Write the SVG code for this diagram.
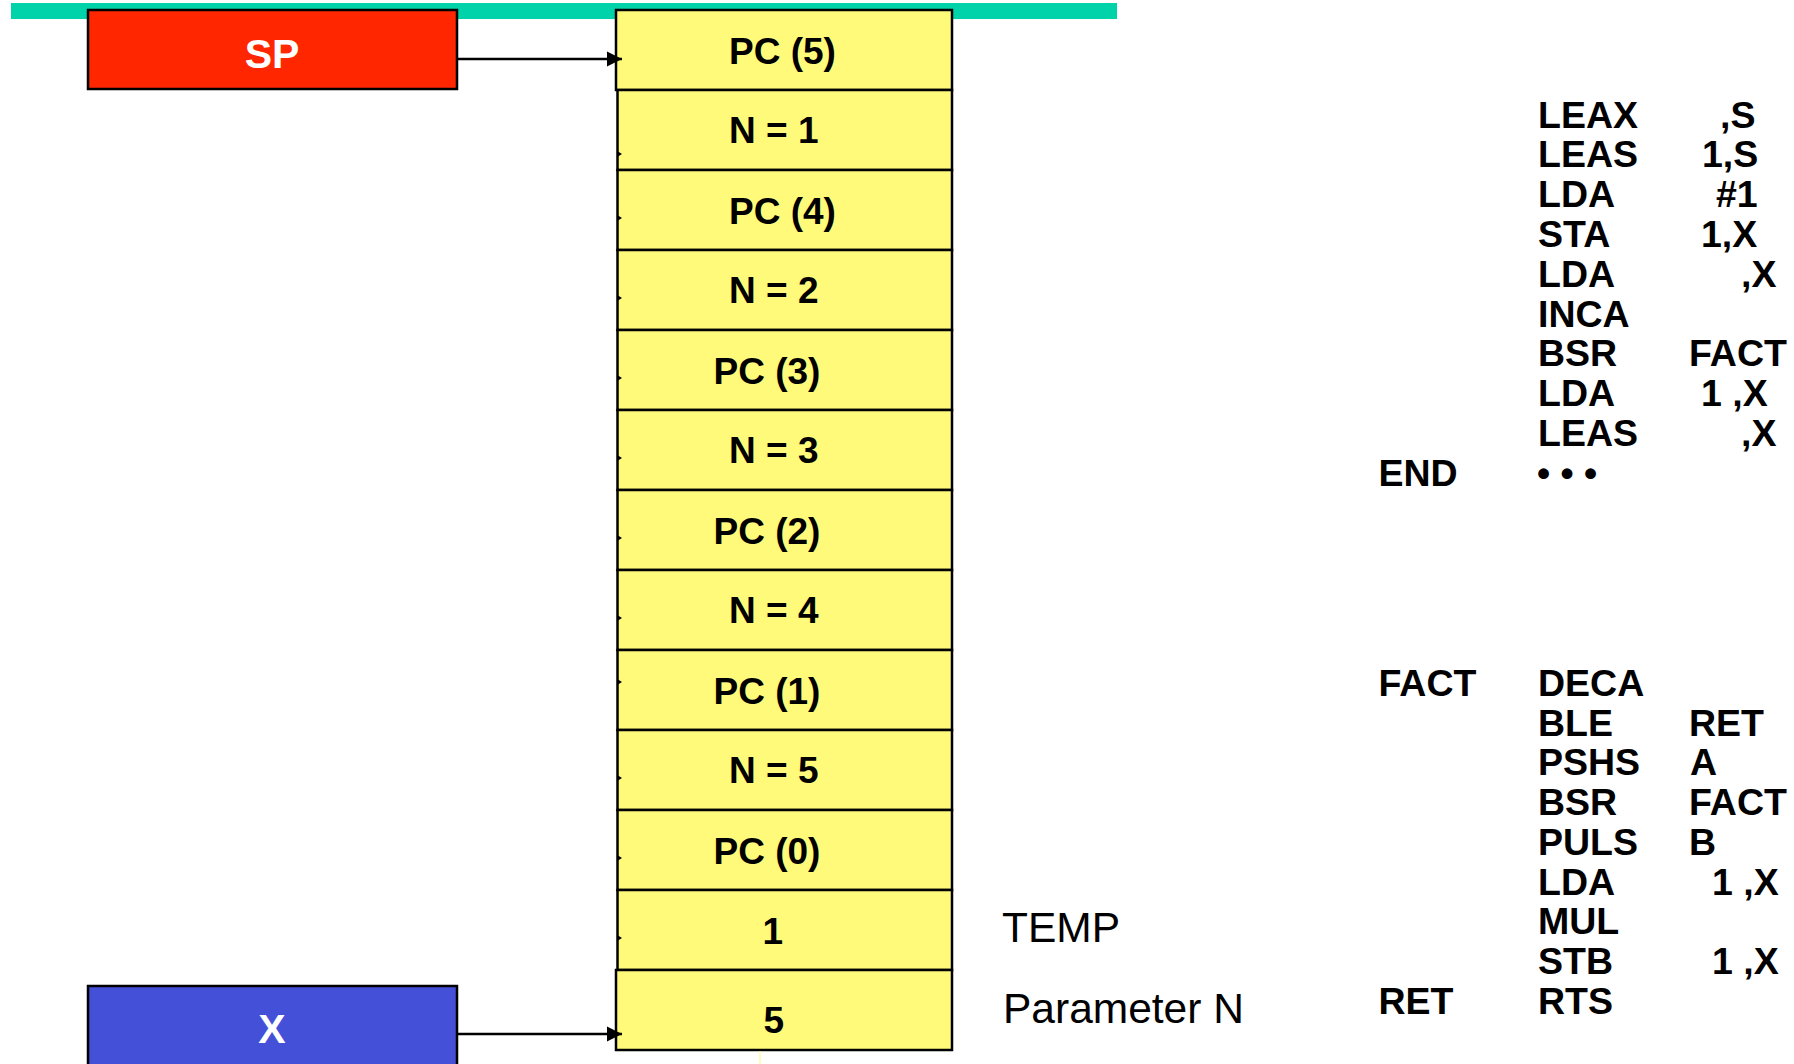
<svg xmlns="http://www.w3.org/2000/svg" width="1794" height="1064" viewBox="0 0 1794 1064">
<style>
.cell{fill:#FFFA7A;stroke:#000;stroke-width:2.5}
.ct{font-family:"Liberation Sans",Arial,sans-serif;font-weight:bold;font-size:37px;fill:#000}
.reg{font-family:"Liberation Sans",Arial,sans-serif;font-weight:bold;font-size:41px;fill:#fff;text-anchor:middle}
.lbl{font-family:"Liberation Sans",Arial,sans-serif;font-size:42.5px;fill:#000}
.code{font-family:"Liberation Sans",Arial,sans-serif;font-weight:bold;font-size:37.5px;fill:#000}
.tick{fill:#000}
.conn{stroke:#000;stroke-width:2.5;fill:none}
</style>
<defs>
<marker id="ah" markerUnits="userSpaceOnUse" markerWidth="16" markerHeight="16" viewBox="0 0 16 16" refX="15" refY="8" orient="auto">
<path d="M0,0.5 L15,8 L0,15.5 Z" fill="#000"/>
</marker>
</defs>
<rect id="bar" x="11" y="3" width="1106" height="16" fill="#00D2AA"/>

<g id="stack">
<g id="cell-0"><rect class="cell" x="616" y="10" width="336" height="80"/><text class="ct" x="729" y="64">PC (5)</text></g>
<g id="cell-1"><rect class="cell" x="617.5" y="90" width="334.5" height="80"/><text class="ct" x="729" y="143">N = 1</text></g>
<g id="cell-2"><rect class="cell" x="617.5" y="170" width="334.5" height="80"/><text class="ct" x="729" y="224">PC (4)</text></g>
<g id="cell-3"><rect class="cell" x="617.5" y="250" width="334.5" height="80"/><text class="ct" x="729" y="303">N = 2</text></g>
<g id="cell-4"><rect class="cell" x="617.5" y="330" width="334.5" height="80"/><text class="ct" x="713.5" y="384">PC (3)</text></g>
<g id="cell-5"><rect class="cell" x="617.5" y="410" width="334.5" height="80"/><text class="ct" x="729" y="463">N = 3</text></g>
<g id="cell-6"><rect class="cell" x="617.5" y="490" width="334.5" height="80"/><text class="ct" x="713.5" y="544">PC (2)</text></g>
<g id="cell-7"><rect class="cell" x="617.5" y="570" width="334.5" height="80"/><text class="ct" x="729" y="623">N = 4</text></g>
<g id="cell-8"><rect class="cell" x="617.5" y="650" width="334.5" height="80"/><text class="ct" x="713.5" y="704">PC (1)</text></g>
<g id="cell-9"><rect class="cell" x="617.5" y="730" width="334.5" height="80"/><text class="ct" x="729" y="783">N = 5</text></g>
<g id="cell-10"><rect class="cell" x="617.5" y="810" width="334.5" height="80"/><text class="ct" x="713.5" y="864">PC (0)</text></g>
<g id="cell-11"><rect class="cell" x="617.5" y="890" width="334.5" height="80"/><text class="ct" x="762.5" y="944">1</text></g>
<g id="cell-12"><rect class="cell" x="616" y="970" width="336" height="80"/><text class="ct" x="763.5" y="1033">5</text></g>
<line x1="760" y1="1051" x2="760" y2="1064" stroke="#FFFA7A" stroke-width="1"/>
<g id="ticks" class="tick">
<polygon points="618,151.5 622,154 618,156.5"/>
<polygon points="618,215.5 622,218 618,220.5"/>
<polygon points="618,295.5 622,298 618,300.5"/>
<polygon points="618,375.5 622,378 618,380.5"/>
<polygon points="618,455.5 622,458 618,460.5"/>
<polygon points="618,535.5 622,538 618,540.5"/>
<polygon points="618,615.5 622,618 618,620.5"/>
<polygon points="618,679.5 622,682 618,684.5"/>
<polygon points="618,775.5 622,778 618,780.5"/>
<polygon points="618,855.5 622,858 618,860.5"/>
<polygon points="618,935.5 622,938 618,940.5"/>
</g>
</g>

<g id="node-sp"><rect x="88" y="10" width="369" height="79" fill="#FF2600" stroke="#000" stroke-width="2.5"/><text class="reg" x="272" y="68">SP</text></g>
<g id="node-x"><rect x="88" y="986" width="369" height="100" fill="#4450D8" stroke="#000" stroke-width="2.5"/><text class="reg" x="272" y="1043">X</text></g>

<g id="connectors">
<line class="conn" x1="457" y1="59" x2="622" y2="59" marker-end="url(#ah)"/>
<line class="conn" x1="457" y1="1034" x2="622" y2="1034" marker-end="url(#ah)"/>
</g>

<g id="labels">
<text class="lbl" x="1002" y="942">TEMP</text>
<text class="lbl" x="1003" y="1023">Parameter N</text>
</g>

<g id="code" class="code">
<text x="1538" y="127.5">LEAX</text><text x="1720" y="127.5">,S</text>
<text x="1538" y="167.3">LEAS</text><text x="1702" y="167.3">1,S</text>
<text x="1538" y="207.1">LDA</text><text x="1716" y="207.1">#1</text>
<text x="1538" y="246.9">STA</text><text x="1701" y="246.9">1,X</text>
<text x="1538" y="286.7">LDA</text><text x="1741" y="286.7">,X</text>
<text x="1538" y="326.5">INCA</text>
<text x="1538" y="366.3">BSR</text><text x="1689" y="366.3">FACT</text>
<text x="1538" y="406.1">LDA</text><text x="1701" y="406.1">1 ,X</text>
<text x="1538" y="445.9">LEAS</text><text x="1741" y="445.9">,X</text>
<text x="1378.5" y="485.7">END</text><text x="1537" y="485.7">• • •</text>
<text x="1378.5" y="696">FACT</text><text x="1538" y="696">DECA</text>
<text x="1538" y="735.7">BLE</text><text x="1689" y="735.7">RET</text>
<text x="1538" y="775.4">PSHS</text><text x="1690" y="775.4">A</text>
<text x="1538" y="815.1">BSR</text><text x="1689" y="815.1">FACT</text>
<text x="1538" y="854.8">PULS</text><text x="1689" y="854.8">B</text>
<text x="1538" y="894.5">LDA</text><text x="1712" y="894.5">1 ,X</text>
<text x="1538" y="934.2">MUL</text>
<text x="1538" y="973.9">STB</text><text x="1712" y="973.9">1 ,X</text>
<text x="1378.5" y="1013.6">RET</text><text x="1538" y="1013.6">RTS</text>
</g>
</svg>
